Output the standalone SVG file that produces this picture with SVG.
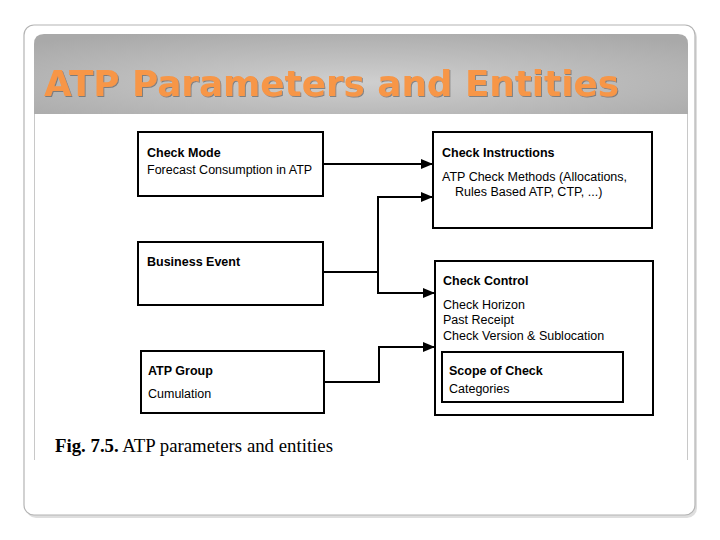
<svg xmlns="http://www.w3.org/2000/svg" width="720" height="540" viewBox="0 0 720 540">
<defs>
<radialGradient id="tg" cx="0.5" cy="0.6" r="0.7">
<stop offset="0" stop-color="#cfcfcf"/>
<stop offset="1" stop-color="#a9a9a9"/>
</radialGradient>
<marker id="ah" viewBox="0 0 12 10" refX="12" refY="5" markerWidth="12" markerHeight="10" markerUnits="userSpaceOnUse" orient="auto">
<path d="M0,0 L12,5 L0,10 Z" fill="#000"/>
</marker>
<filter id="ts" x="-5%" y="-20%" width="110%" height="140%">
<feDropShadow dx="1" dy="1" stdDeviation="0.6" flood-color="#555" flood-opacity="0.6"/>
</filter>
</defs>
<style>
.box{fill:#fff;stroke:#000;stroke-width:2}
.t{font-family:'Liberation Sans',Arial,sans-serif;font-size:12.5px;fill:#000}
.b{font-weight:bold}
.c{fill:none;stroke:#000;stroke-width:2}
</style>
<rect x="0" y="0" width="720" height="540" fill="#fff"/>
<!-- slide frame -->
<rect x="26" y="27" width="671" height="491" rx="10" fill="#d0d0d0" opacity="0.7"/>
<rect x="24" y="25" width="671" height="490" rx="10" fill="#fff" stroke="#b4b4b4" stroke-width="1.2"/>
<!-- title bar -->
<path d="M34,44 Q34,34 44,34 L678,34 Q688,34 688,44 L688,114 L34,114 Z" fill="url(#tg)"/>
<text x="44" y="96" font-family="'DejaVu Sans',Verdana,sans-serif" font-weight="bold" font-size="35" fill="#f79646" textLength="575" lengthAdjust="spacingAndGlyphs" filter="url(#ts)">ATP Parameters and Entities</text>
<!-- picture edges -->
<line x1="34.5" y1="114" x2="34.5" y2="460" stroke="#c8c8c8" stroke-width="1"/>
<line x1="687.5" y1="114" x2="687.5" y2="460" stroke="#c8c8c8" stroke-width="1"/>
<g id="checkMode">
<rect class="box" x="138" y="132" width="185" height="64"/>
<text class="t b" x="147" y="157">Check Mode</text>
<text class="t" x="147" y="174">Forecast Consumption in ATP</text>
</g>
<g id="businessEvent">
<rect class="box" x="138" y="242" width="185" height="63"/>
<text class="t b" x="147" y="266">Business Event</text>
</g>
<g id="atpGroup">
<rect class="box" x="141" y="351" width="183" height="62"/>
<text class="t b" x="148" y="375">ATP Group</text>
<text class="t" x="148" y="398">Cumulation</text>
</g>
<g id="checkInstructions">
<rect class="box" x="433" y="132" width="219" height="96"/>
<text class="t b" x="442" y="157">Check Instructions</text>
<text class="t" x="442" y="181">ATP Check Methods (Allocations,</text>
<text class="t" x="455" y="196">Rules Based ATP, CTP, ...)</text>
</g>
<g id="checkControl">
<rect class="box" x="435" y="261" width="218" height="154"/>
<text class="t b" x="443" y="285">Check Control</text>
<text class="t" x="443" y="309">Check Horizon</text>
<text class="t" x="443" y="324">Past Receipt</text>
<text class="t" x="443" y="340">Check Version &amp; Sublocation</text>
<g id="scopeOfCheck">
<rect class="box" x="442" y="352" width="181" height="50"/>
<text class="t b" x="449" y="375">Scope of Check</text>
<text class="t" x="449" y="393">Categories</text>
</g>
</g>
<g id="connectors">
<path class="c" d="M323,164 L433,164" marker-end="url(#ah)"/>
<path class="c" d="M323,272 L378,272"/>
<path class="c" d="M378,197 L378,293"/>
<path class="c" d="M377,197 L433,197" marker-end="url(#ah)"/>
<path class="c" d="M377,293 L435,293" marker-end="url(#ah)"/>
<path class="c" d="M324,382 L379,382 L379,347 L435,347" marker-end="url(#ah)"/>
</g>
<text x="55" y="452" font-family="'Liberation Serif','Times New Roman',serif" font-size="18" fill="#000" textLength="278" lengthAdjust="spacingAndGlyphs"><tspan font-weight="bold">Fig. 7.5.</tspan> ATP parameters and entities</text>
</svg>
